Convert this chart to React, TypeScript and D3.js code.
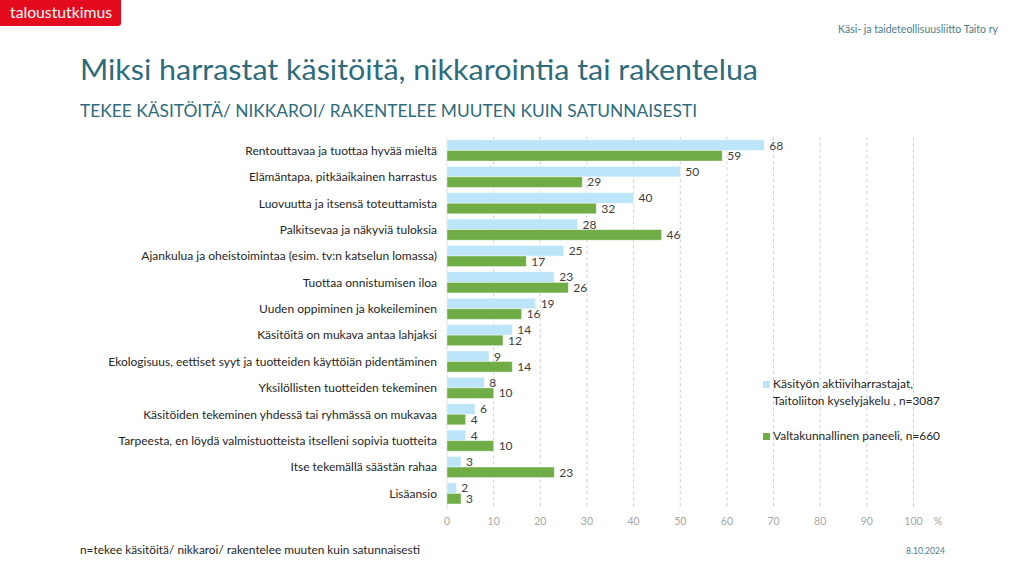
import React from "react";
import * as d3 from "d3";

const categories = [
  "Rentouttavaa ja tuottaa hyvää mieltä",
  "Elämäntapa, pitkäaikainen harrastus",
  "Luovuutta ja itsensä toteuttamista",
  "Palkitsevaa ja näkyviä tuloksia",
  "Ajankulua ja oheistoimintaa (esim. tv:n katselun lomassa)",
  "Tuottaa onnistumisen iloa",
  "Uuden oppiminen ja kokeileminen",
  "Käsitöitä on mukava antaa lahjaksi",
  "Ekologisuus, eettiset syyt ja tuotteiden käyttöiän pidentäminen",
  "Yksilöllisten tuotteiden tekeminen",
  "Käsitöiden tekeminen yhdessä tai ryhmässä on mukavaa",
  "Tarpeesta, en löydä valmistuotteista itselleni sopivia tuotteita",
  "Itse tekemällä säästän rahaa",
  "Lisäansio",
];
const taitoValues = [68, 50, 40, 28, 25, 23, 19, 14, 9, 8, 6, 4, 3, 2];
const panelValues = [59, 29, 32, 46, 17, 26, 16, 12, 14, 10, 4, 10, 23, 3];
const legendLines1 = ["Käsityön aktiiviharrastajat,", "Taitoliiton kyselyjakelu , n=3087"];
const legendLines2 = ["Valtakunnallinen paneeli, n=660"];
const ticks = [0, 10, 20, 30, 40, 50, 60, 70, 80, 90, 100];

const FONT = "Lato, 'Noto Sans', sans-serif";
const TEAL = "#2E6B7B";
const LIGHT = "#BDE5FA";
const GREEN = "#70AD47";

export default function App() {
  const x = d3.scaleLinear().domain([0, 100]).range([447, 913.5]);
  const y = d3.scaleBand<string>().domain(categories).range([137.3, 506.6]).paddingInner(0.2).paddingOuter(0.1);
  const sub = d3.scaleBand<string>().domain(["a", "b"]).range([0, y.bandwidth()]).padding(0);
  const series = [
    { key: "a", values: taitoValues, color: LIGHT },
    { key: "b", values: panelValues, color: GREEN },
  ];
  const top = 137.3, bottom = 506.6;
  return (
    <svg width={1024} height={576} style={{ position: "absolute", left: 0, top: 0, background: "#fff" }} fontFamily={FONT}>
      <rect x={0} y={0} width={1024} height={576} fill="#fff" />
      {/* logo */}
      <path d="M0,0 H121 V23 Q121,26 118,26 H0 Z" fill="#E30B1D" />
      <text x={10} y={18} fill="#fff" fontSize={14.5} fontWeight={400} textLength={102} lengthAdjust="spacingAndGlyphs">taloustutkimus</text>
      <text x={998} y={33} fill="#4E7C8C" fontSize={10.5} textAnchor="end" textLength={160} lengthAdjust="spacingAndGlyphs">Käsi- ja taideteollisuusliitto Taito ry</text>
      <text x={80} y={80} fill={TEAL} fontSize={29.5} textLength={678} lengthAdjust="spacingAndGlyphs">Miksi harrastat käsitöitä, nikkarointia tai rakentelua</text>
      <text x={80} y={117} fill={TEAL} fontSize={17} textLength={617} lengthAdjust="spacingAndGlyphs">TEKEE KÄSITÖITÄ/ NIKKAROI/ RAKENTELEE MUUTEN KUIN SATUNNAISESTI</text>

      {/* gridlines */}
      {ticks.map((t) => (
        <line key={t} x1={x(t)} x2={x(t)} y1={top} y2={bottom + 3}
          stroke={t === 0 ? "#D9D9D9" : "#BFBFBF"} strokeWidth={0.8} strokeDasharray={t === 0 ? undefined : "3,3"} />
      ))}
      {ticks.map((t) => (
        <text key={"t" + t} x={x(t)} y={525} fontSize={10.5} fill="#A6A6A6" textAnchor="middle">{t}</text>
      ))}
      <text x={938} y={525} fontSize={10.5} fill="#A6A6A6" textAnchor="middle">%</text>

      {/* categories */}
      {categories.map((c) => (
        <text key={c} x={437} y={(y(c) as number) + y.bandwidth() / 2 + 4.3} fontSize={12} fill="#262626" textAnchor="end">{c}</text>
      ))}

      {/* bars */}
      {series.map((s) =>
        categories.map((c, i) => {
          const by = (y(c) as number) + (sub(s.key) as number);
          const h = sub.bandwidth();
          return (
            <g key={s.key + i}>
              <rect x={x(0)} y={by} width={x(s.values[i]) - x(0)} height={h} fill={s.color} stroke="#fff" strokeOpacity={0.5} strokeWidth={0.8} />
              <text x={x(s.values[i]) + 5} y={by + h / 2 + 4.3} fontSize={12} fill="#404040">{s.values[i]}</text>
            </g>
          );
        })
      )}

      {/* legend */}
      <rect x={763} y={381} width={7} height={7} fill={LIGHT} />
      <text x={773} y={388} fontSize={12} fill="#262626" textLength={140} lengthAdjust="spacingAndGlyphs">{legendLines1[0]}</text>
      <text x={773} y={405} fontSize={12} fill="#262626" textLength={167} lengthAdjust="spacingAndGlyphs">{legendLines1[1]}</text>
      <rect x={763} y={433} width={7} height={7} fill={GREEN} />
      <text x={773} y={440} fontSize={12} fill="#262626" textLength={167} lengthAdjust="spacingAndGlyphs">{legendLines2[0]}</text>

      {/* footer */}
      <text x={80} y={554} fontSize={10.5} fill="#262626" textLength={340} lengthAdjust="spacingAndGlyphs">n=tekee käsitöitä/ nikkaroi/ rakentelee muuten kuin satunnaisesti</text>
      <text x={945} y={554} fontSize={10} fill="#4E7C8C" textAnchor="end" textLength={39} lengthAdjust="spacingAndGlyphs">8.10.2024</text>
    </svg>
  );
}
